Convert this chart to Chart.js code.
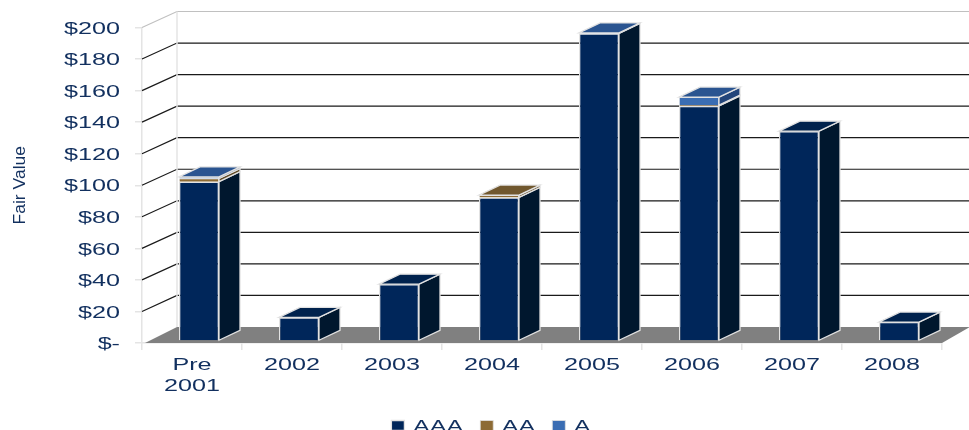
<!DOCTYPE html>
<html>
<head>
<meta charset="utf-8">
<style>
  html, body { margin: 0; padding: 0; background: #fff; overflow: hidden; }
  #wrap { width: 969px; height: 430px; }
</style>
<script src="https://cdn.jsdelivr.net/npm/chart.js@4"></script>
</head>
<body>
<div id="wrap"><canvas id="chart" width="969" height="430"></canvas></div>
<script>
const categories = [["Pre", "2001"], "2002", "2003", "2004", "2005", "2006", "2007", "2008"];
const aaaValues = [101, 15, 36, 91, 195, 149, 133, 12];
const aaValues = [2, 0, 0, 1.5, 0, 0.6, 0, 0];
const aValues = [1, 0, 0, 0, 0.3, 5, 0, 0];

const textColor = "#12305f";
const depthX = 21, depthY = -10;   // bar extrusion
const wallX = 35, wallY = -16;     // floor / side wall extrusion
const barShiftX = 7, barShiftY = -2;

const faceColors = [
    { front: "#00265a", side: "#00172e", top: "#00224d" },
    { front: "#8d6b35", side: "#5f4a26", top: "#70572e" },
    { front: "#3a6db3", side: "#23457a", top: "#2a5490" }
];

// the original text is stretched sideways, canvas has no font-stretch so do it here
const ctx = document.getElementById("chart").getContext("2d");
const stretchOf = (text) => text === "Fair Value" ? 1.03 : 1.48;
const origFill = ctx.fillText, origMeasure = ctx.measureText;
ctx.fillText = function (text, x, y) {
    this.save();
    this.translate(x, this.textBaseline === "middle" ? y + 1.5 : y);
    this.scale(stretchOf(text), 1);
    origFill.call(this, text, 0, 0);
    this.restore();
};
ctx.measureText = function (text) {
    const m = origMeasure.call(this, text);
    const k = stretchOf(text);
    return new Proxy(m, { get: (t, p) => p === "width" ? t.width * k : t[p] });
};

const poly = (c, pts, fill, stroke) => {
    c.beginPath();
    pts.forEach((p, i) => i ? c.lineTo(p[0], p[1]) : c.moveTo(p[0], p[1]));
    c.closePath();
    if (fill) { c.fillStyle = fill; c.fill(); }
    if (stroke) { c.strokeStyle = stroke; c.lineWidth = 1.3; c.stroke(); }
};

const room3d = {
    id: "room3d",
    afterLayout(chart) {
        // legend sits right of centre in the original
        chart.legend.left += 20;
        chart.legend.right += 20;
    },
    beforeDatasetsDraw(chart) {
        const c = chart.ctx, a = chart.chartArea, y = chart.scales.y;
        const backL = a.left + wallX, backB = a.bottom + wallY;
        c.save();
        // floor
        poly(c, [[a.left + 3, a.bottom], [backL, backB], [a.right + 28, backB], [a.right, a.bottom]], "#808080");
        // walls
        c.lineWidth = 1.2;
        y.ticks.forEach((t) => {
            const py = y.getPixelForValue(t.value);
            if (t.value === 0) return;
            const isTop = t.value === 200;
            c.strokeStyle = isTop ? "#c0c0c0" : "#1a1a1a";
            c.beginPath();
            c.moveTo(a.left, py);
            c.lineTo(backL, py + wallY);
            c.lineTo(chart.width, py + wallY);
            c.stroke();
        });
        c.strokeStyle = "#e4e4e4";
        c.lineWidth = 1.5;
        c.beginPath();
        c.moveTo(backL, y.getPixelForValue(200) + wallY);
        c.lineTo(backL, backB);
        c.stroke();
        c.restore();
        // bars sit in the middle of the floor depth
        c.save();
        c.translate(barShiftX, barShiftY);
    },
    afterDatasetsDraw(chart) {
        const c = chart.ctx;
        chart.data.datasets.forEach((ds, i) => {
            const colors = faceColors[i];
            chart.getDatasetMeta(i).data.forEach((bar, j) => {
                if (!ds.data[j]) return;
                const r = bar.x + bar.width / 2, l = bar.x - bar.width / 2;
                poly(c, [[r, bar.base], [r + depthX, bar.base + depthY], [r + depthX, bar.y + depthY], [r, bar.y]], colors.side, "#e2e2e2");
                // only the highest segment shows its top
                const above = chart.data.datasets.slice(i + 1).some((d) => d.data[j]);
                if (!above) poly(c, [[l, bar.y], [l + depthX, bar.y + depthY], [r + depthX, bar.y + depthY], [r, bar.y]], colors.top, "#e2e2e2");
            });
        });
        c.restore();
    }
};

const dataset = (label, data, i) => ({
    label: label,
    data: data,
    backgroundColor: faceColors[i].front,
    borderColor: "#e2e2e2",
    borderWidth: i === 0 ? 1.3 : 0.8,
    categoryPercentage: 0.4,
    barPercentage: 1
});

new Chart(ctx, {
    type: "bar",
    data: {
        labels: categories,
        datasets: [dataset("AAA", aaaValues, 0), dataset("AA", aaValues, 1), dataset("A", aValues, 2)]
    },
    plugins: [room3d],
    options: {
        responsive: false,
        animation: false,
        layout: { padding: { top: 27.5, right: 27, bottom: -14, left: 0 } },
        plugins: {
            tooltip: { enabled: false },
            legend: {
                position: "bottom",
                labels: {
                    color: textColor,
                    font: { family: "Liberation Sans", size: 17 },
                    boxWidth: 13,
                    boxHeight: 10,
                    padding: 17
                }
            }
        },
        scales: {
            x: {
                stacked: true,
                afterFit: (s) => { s.height = 57; },
                border: { color: "#e4e4e4", width: 1.5 },
                grid: { drawOnChartArea: false, color: "#e4e4e4", tickLength: 7, lineWidth: 1.5 },
                ticks: {
                    color: textColor,
                    font: { family: "Liberation Sans", size: 17, lineHeight: 1.25 },
                    maxRotation: 0,
                    autoSkip: false,
                    padding: 3
                }
            },
            y: {
                stacked: true,
                min: 0,
                max: 200,
                afterFit: (s) => { s.width = 142; },
                border: { color: "#e4e4e4", width: 1.5 },
                grid: { drawOnChartArea: false, color: "#e4e4e4", tickLength: 7, lineWidth: 1.5 },
                title: {
                    display: true,
                    text: "Fair Value",
                    color: textColor,
                    font: { family: "Liberation Sans", size: 17 },
                    padding: { top: 9, bottom: 0 }
                },
                ticks: {
                    color: textColor,
                    font: { family: "Liberation Sans", size: 17 },
                    stepSize: 20,
                    padding: 15,
                    callback: (v) => v === 0 ? "$-" : "$" + v
                }
            }
        }
    }
});
</script>
</body>
</html>
